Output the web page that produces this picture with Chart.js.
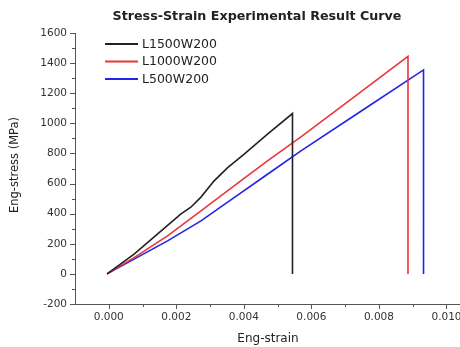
<!DOCTYPE html>
<html>
<head>
<meta charset="utf-8">
<script src="https://cdn.jsdelivr.net/npm/chart.js@4.4.1/dist/chart.umd.min.js"></script>
<style>
html,body{margin:0;padding:0;background:#fff;}
#wrap{position:relative;width:460px;height:347px;}
</style>
</head>
<body>
<div id="wrap"><canvas id="c"></canvas></div>
<script>
// ---- data ----
const chartTitle = "Stress-Strain Experimental Result Curve";
const xTitle = "Eng-strain";
const yTitle = "Eng-stress (MPa)";
const seriesNames = ["L1500W200", "L1000W200", "L500W200"];

const strainL1500 = [-0.00005, 0.00075, 0.00144, 0.00213, 0.00243, 0.00273, 0.00312, 0.00352, 0.00401, 0.00470, 0.00544, 0.00544];
const stressL1500 = [0, 131, 264, 397, 443, 510, 618, 706, 795, 928, 1065, 0];

const strainL1000 = [-0.00005, 0.00075, 0.00174, 0.00273, 0.00371, 0.00470, 0.00569, 0.00710, 0.00886, 0.00886];
const stressL1000 = [0, 108, 252, 419, 585, 751, 910, 1147, 1445, 0];

const strainL500 = [-0.00005, 0.00075, 0.00174, 0.00273, 0.00371, 0.00470, 0.00569, 0.00750, 0.00932, 0.00932];
const stressL500 = [0, 98, 219, 352, 507, 662, 817, 1085, 1355, 0];

const xTickValues = [0.000, 0.001, 0.002, 0.003, 0.004, 0.005, 0.006, 0.007, 0.008, 0.009, 0.010];
const yTickValues = [-200, -100, 0, 100, 200, 300, 400, 500, 600, 700, 800, 900, 1000, 1100, 1200, 1300, 1400, 1500, 1600];

const colors = ["#222222", "#ec3535", "#2323e6"];

function pts(xs, ys){ return xs.map((x,i)=>({x:x, y:ys[i]})); }

const FONT = "'DejaVu Sans', sans-serif";

const decor = {
  id: 'decor',
  afterDraw(chart){
    const ctx = chart.ctx;
    const xs = chart.scales.x, ys = chart.scales.y;
    const area = chart.chartArea;
    ctx.save();
    // tick marks
    ctx.strokeStyle = '#555';
    ctx.lineWidth = 1;
    xs.ticks.forEach(t=>{
      const px = Math.round(xs.getPixelForValue(t.value)) + 0.5;
      const major = Math.abs(Math.round(t.value*1000) % 2) === 0;
      const len = major ? 5 : 3;
      ctx.beginPath(); ctx.moveTo(px, area.bottom); ctx.lineTo(px, area.bottom + len); ctx.stroke();
    });
    ys.ticks.forEach(t=>{
      const py = Math.round(ys.getPixelForValue(t.value)) + 0.5;
      const major = t.value % 200 === 0;
      const len = major ? 5 : 3;
      ctx.beginPath(); ctx.moveTo(area.left, py); ctx.lineTo(area.left - len, py); ctx.stroke();
    });
    // title
    ctx.fillStyle = '#222';
    ctx.font = "bold 12.7px " + FONT;
    ctx.textAlign = 'center'; ctx.textBaseline = 'middle';
    ctx.fillText(chartTitle, 257, 17);
    // axis titles
    ctx.font = "12px " + FONT;
    ctx.fillText(xTitle, 268, 339);
    ctx.save();
    ctx.translate(15, 165);
    ctx.rotate(-Math.PI/2);
    ctx.font = "11.5px " + FONT;
    ctx.fillText(yTitle, 0, 0);
    ctx.restore();
    // legend
    ctx.font = "12.5px " + FONT;
    ctx.textAlign = 'left';
    chart.data.datasets.forEach((ds,i)=>{
      const y = 44 + i*17.5;
      ctx.strokeStyle = ds.borderColor;
      ctx.lineWidth = 2;
      ctx.beginPath(); ctx.moveTo(105, y); ctx.lineTo(138, y); ctx.stroke();
      ctx.fillStyle = '#222';
      ctx.fillText(ds.label, 142, y + 0.5);
    });
    ctx.restore();
  }
};

new Chart(document.getElementById('c'), {
  type: 'scatter',
  data: {
    datasets: [
      {label: seriesNames[0], data: pts(strainL1500, stressL1500)},
      {label: seriesNames[1], data: pts(strainL1000, stressL1000)},
      {label: seriesNames[2], data: pts(strainL500, stressL500)}
    ].map((d,i)=>Object.assign(d, {
      showLine: true, borderColor: colors[i], backgroundColor: colors[i],
      borderWidth: 1.6, pointRadius: 0, tension: 0, fill: false
    }))
  },
  options: {
    responsive: true,
    maintainAspectRatio: false,
    animation: false,
    layout: {padding: {top: 33, right: 0, bottom: 0, left: 0}},
    plugins: {legend: {display: false}, title: {display: false}, tooltip: {enabled: false}},
    scales: {
      x: {
        type: 'linear', min: -0.001, max: 0.0104,
        afterBuildTicks(scale){ scale.ticks = xTickValues.map(v=>({value:v})); },
        afterFit(scale){ scale.height = 43; scale.paddingRight = 0; scale.paddingLeft = 0; },
        grid: {display: true, drawOnChartArea: false, drawTicks: true, tickLength: 5, tickColor: 'rgba(0,0,0,0)'},
        border: {display: true, color: '#555', width: 1},
        ticks: {
          autoSkip: false, maxRotation: 0, padding: 2, color: '#333',
          font: {family: FONT, size: 10.5},
          callback(v){ const k = Math.round(v*1000); return (k % 2 === 0) ? (k/1000).toFixed(3) : ''; }
        }
      },
      y: {
        type: 'linear', min: -200, max: 1600,
        afterBuildTicks(scale){ scale.ticks = yTickValues.map(v=>({value:v})); },
        afterFit(scale){ scale.width = 75; scale.paddingTop = 0; scale.paddingBottom = 0; },
        grid: {display: true, drawOnChartArea: false, drawTicks: true, tickLength: 5, tickColor: 'rgba(0,0,0,0)'},
        border: {display: true, color: '#555', width: 1},
        ticks: {
          autoSkip: false, padding: 3, color: '#333',
          font: {family: FONT, size: 10.5},
          callback(v){ return (v % 200 === 0) ? String(v) : ''; }
        }
      }
    }
  },
  plugins: [decor]
});
</script>
</body>
</html>
